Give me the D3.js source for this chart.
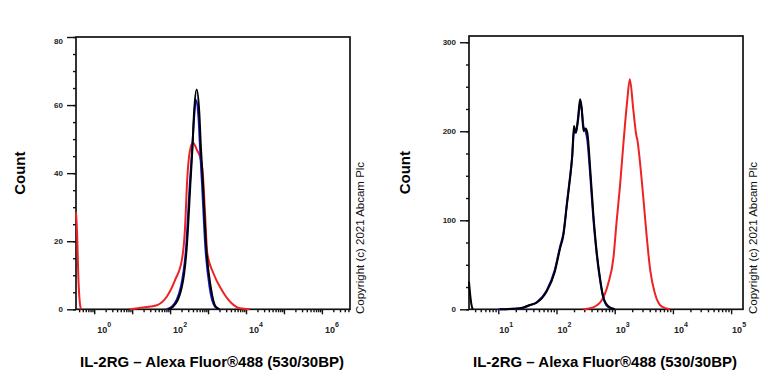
<!DOCTYPE html>
<html>
<head>
<meta charset="utf-8">
<script src="https://cdn.jsdelivr.net/npm/d3@7"></script>
<style>
  body { margin: 0; background: #fff; }
  svg { display: block; font-family: "Liberation Sans", Arial, sans-serif; }
</style>
</head>
<body>
<div class="canva"></div>
<script>
// data: [log10 fluorescence, count]
const leftRedEdge = [[-0.48, 28.5], [-0.45, 22], [-0.42, 10], [-0.38, 2], [-0.35, 0]];
const leftRed = [[0.94, 0], [1.29, 0.5], [1.65, 1.2], [1.91, 3.7], [2.13, 8.6], [2.31, 14.5],
  [2.39, 23.3], [2.45, 38], [2.51, 45.8], [2.6, 48.9], [2.72, 46.5], [2.79, 44.8], [2.86, 40],
  [2.92, 28.2], [2.98, 16.4], [3.14, 10.6], [3.36, 5.7], [3.62, 1.8], [3.84, 0.3], [4.1, 0]];
const leftBlue = [[1.9, 0], [2.05, 0.8], [2.28, 6.5], [2.42, 18], [2.52, 37], [2.58, 47], [2.63, 56],
  [2.68, 61.5], [2.75, 56], [2.79, 47], [2.84, 37], [2.93, 18], [3.04, 6.5], [3.18, 0.8], [3.3, 0]];
const leftBlack = [[1.95, 0], [2.08, 0.8], [2.31, 6.6], [2.44, 18.4], [2.54, 38], [2.59, 47.8],
  [2.63, 57.6], [2.7, 64.6], [2.77, 57.6], [2.81, 47.8], [2.86, 38], [2.95, 18.4], [3.07, 6.6],
  [3.2, 0.8], [3.3, 0]];

const rightBlackEdge = [[0.497, 31], [0.515, 18], [0.54, 5], [0.56, 0]];
const rightRed = [[2.46, 0], [2.63, 2.2], [2.78, 10.4], [2.89, 29.2], [2.98, 59], [3.03, 96.6],
  [3.09, 137.8], [3.15, 186.5], [3.21, 231], [3.26, 258.4], [3.32, 224], [3.37, 196], [3.39, 190],
  [3.43, 168], [3.49, 126.5], [3.55, 81.6], [3.61, 44], [3.69, 18], [3.81, 2.9], [3.95, 0]];
const rightBlue = [[1.0, 0], [1.37, 1], [1.54, 4.5], [1.66, 8], [1.83, 21], [1.97, 44], [2.06, 70],
  [2.12, 86], [2.18, 120], [2.22, 142], [2.27, 172], [2.3, 198], [2.335, 200], [2.37, 212],
  [2.405, 230], [2.43, 226], [2.465, 205], [2.5, 200], [2.53, 190], [2.58, 150], [2.635, 100],
  [2.69, 62], [2.75, 32], [2.8, 14], [2.88, 3], [3.0, 0]];
const rightBlack = [[1.03, 0], [1.37, 1.1], [1.54, 4.8], [1.66, 7.5], [1.83, 20], [1.97, 42],
  [2.06, 68], [2.12, 84], [2.18, 118], [2.22, 140], [2.27, 172], [2.3, 206], [2.335, 198],
  [2.37, 215], [2.405, 236], [2.43, 228], [2.465, 200], [2.5, 203], [2.53, 198], [2.58, 157],
  [2.635, 105], [2.69, 65], [2.75, 34], [2.8, 15], [2.88, 4], [3.0, 0]];

const leftYTicks = [0, 20, 40, 60, 80];
const rightYTicks = [0, 100, 200, 300];
const leftDecades = [0, 1, 2, 3, 4, 5, 6];
const leftLabelDecades = [0, 2, 4, 6];
const rightDecades = [1, 2, 3, 4, 5];
const rightLabelDecades = [1, 2, 3, 4, 5];

const xTitle = "IL-2RG \u2013 Alexa Fluor\u00AE488 (530/30BP)";
const yTitle = "Count";
const copyright = "Copyright (c) 2021 Abcam Plc";

const svg = d3.select(".canva").append("svg")
    .attr("width", 768)
    .attr("height", 384);

function drawPanel(p) {
    const x = d3.scaleLog().domain([10 ** p.xMin, 10 ** p.xMax]).range([p.x0, p.x1]);
    const y = d3.scaleLinear().domain([0, p.yMax]).range([p.y1, p.y0]);

    // minor x ticks (2..9 per decade)
    const minors = [];
    for (let k = Math.floor(p.xMin); k <= Math.ceil(p.xMax); k++) {
        for (let m = 2; m <= 9; m++) {
            const v = m * 10 ** k;
            if (v >= 10 ** p.xMin && v <= 10 ** p.xMax) minors.push(v);
        }
    }
    const xAxisMinor = svg.append("g").attr("transform", `translate(0,${p.y1})`)
        .call(d3.axisBottom(x).tickValues(minors).tickSize(3).tickFormat(""));
    const xAxisMajor = svg.append("g").attr("transform", `translate(0,${p.y1})`)
        .call(d3.axisBottom(x).tickValues(p.decades.map(k => 10 ** k)).tickSize(5).tickFormat(""));
    [xAxisMinor, xAxisMajor].forEach(g => {
        g.select(".domain").remove();
        g.selectAll("line").attr("stroke", "#111").attr("stroke-width", 1.4);
    });

    // decade labels 10^k
    p.labels.forEach(k => {
        const t = svg.append("text")
            .attr("x", x(10 ** k) + p.labelDx)
            .attr("y", p.y1 + 24)
            .attr("font-size", 9)
            .attr("font-weight", "bold")
            .attr("fill", "#222")
            .text("10");
        t.append("tspan").attr("dy", -6).attr("font-size", 7).text(k);
    });

    // y axis
    const minorY = d3.range(0, p.yMax + 0.01, p.yMinorStep);
    const yAxisMinor = svg.append("g").attr("transform", `translate(${p.x0},0)`)
        .call(d3.axisLeft(y).tickValues(minorY).tickSize(3).tickFormat(""));
    const yAxisMajor = svg.append("g").attr("transform", `translate(${p.x0},0)`)
        .call(d3.axisLeft(y).tickValues(p.yTicks).tickSize(9).tickPadding(4));
    [yAxisMinor, yAxisMajor].forEach(g => {
        g.select(".domain").remove();
        g.selectAll("line").attr("stroke", "#111").attr("stroke-width", 1.4);
    });
    yAxisMajor.selectAll("text")
        .attr("font-size", 8)
        .attr("font-weight", "bold")
        .attr("fill", "#222")
        .attr("font-family", "Liberation Sans, Arial, sans-serif");
    yAxisMajor.selectAll(".tick text").filter(d => y(d) < p.y0 + 2).attr("dy", "0.8em");

    // frame
    svg.append("rect")
        .attr("x", p.x0).attr("y", p.y0)
        .attr("width", p.x1 - p.x0).attr("height", p.y1 - p.y0)
        .attr("fill", "none").attr("stroke", "#111").attr("stroke-width", 1.7);

    // histograms
    const line = d3.line()
        .x(d => x(10 ** d[0]))
        .y(d => y(d[1]))
        .curve(d3.curveMonotoneX);
    p.series.forEach(s => {
        svg.append("path")
            .datum(s.data)
            .attr("d", line)
            .attr("fill", "none")
            .attr("stroke", s.color)
            .attr("stroke-width", 2)
            .attr("stroke-linejoin", "round");
    });

    // titles
    svg.append("text")
        .attr("transform", `translate(${p.yTitleX},${(p.y0 + p.y1) / 2}) rotate(-90)`)
        .attr("text-anchor", "middle")
        .attr("font-size", 15)
        .attr("font-weight", "bold")
        .text(yTitle);
    svg.append("text")
        .attr("x", (p.x0 + p.x1) / 2 - 1)
        .attr("y", 367)
        .attr("text-anchor", "middle")
        .attr("font-size", 15)
        .attr("font-weight", "bold")
        .text(xTitle);
    svg.append("text")
        .attr("transform", `translate(${p.x1 + 13.5},314) rotate(-90)`)
        .attr("font-size", 11.5)
        .attr("fill", "#111")
        .text(copyright);
}

drawPanel({
    x0: 76, x1: 350, y0: 37, y1: 309.3,
    xMin: -0.48, xMax: 6.74, yMax: 80,
    decades: leftDecades, labels: leftLabelDecades, labelDx: 3,
    yTicks: leftYTicks, yMinorStep: 5, yTitleX: 25,
    series: [
        { data: leftRedEdge, color: "#ee2222" },
        { data: leftRed, color: "#ee2222" },
        { data: leftBlue, color: "#1515c8" },
        { data: leftBlack, color: "#000000" }
    ]
});

drawPanel({
    x0: 469, x1: 743, y0: 36, y1: 309.3,
    xMin: 0.497, xMax: 5.204, yMax: 307,
    decades: rightDecades, labels: rightLabelDecades, labelDx: 1,
    yTicks: rightYTicks, yMinorStep: 25, yTitleX: 410,
    series: [
        { data: rightRed, color: "#ee2222" },
        { data: rightBlue, color: "#1515c8" },
        { data: rightBlack, color: "#000000" },
        { data: rightBlackEdge, color: "#000000" }
    ]
});
</script>
</body>
</html>
